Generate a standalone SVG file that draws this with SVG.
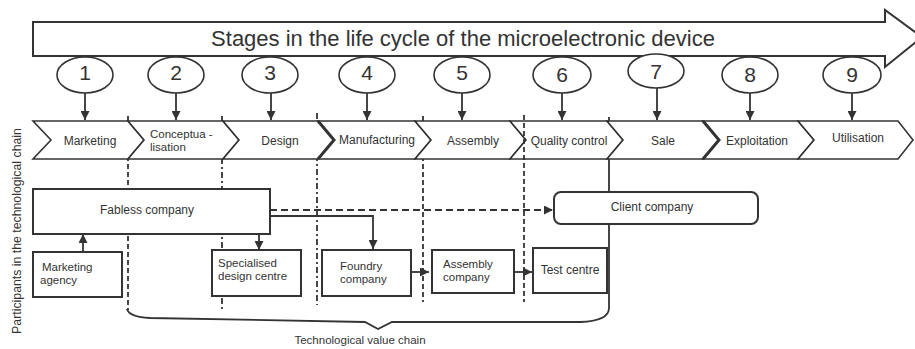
<svg xmlns="http://www.w3.org/2000/svg" width="915" height="349" viewBox="0 0 915 349">
<style>
text{font-family:"Liberation Sans",Arial,sans-serif;fill:#333}
.chev{fill:#fff;stroke:#333;stroke-width:1.6;stroke-linejoin:miter}
.box{fill:#fff;stroke:#333;stroke-width:2}
.ell{fill:#fff;stroke:#333;stroke-width:1.6}
.t12{font-size:12px}
.t11{font-size:11.5px}
.num{font-size:21px;text-anchor:middle}
.mid{text-anchor:middle}
.ln{fill:none;stroke:#333;stroke-width:1.8}
.dl{fill:none;stroke:#333;stroke-width:1.8}
</style>
<defs>
<marker id="ah" viewBox="0 0 10 10" refX="10" refY="5" markerWidth="9" markerHeight="9" markerUnits="userSpaceOnUse" orient="auto">
<path d="M0,0 L10,5 L0,10 z" fill="#333"/>
</marker>
</defs>
<rect width="915" height="349" fill="#fff"/>

<!-- stage separator lines (behind shapes) -->
<g id="separators">
<line class="dl" x1="128" y1="116" x2="128" y2="310" stroke-dasharray="5,3"/>
<line class="dl" x1="222" y1="116" x2="222" y2="312" stroke-dasharray="6,3,2,3"/>
<line class="dl" x1="317" y1="113" x2="317" y2="305" stroke-dasharray="6,3,2,3"/>
<line class="dl" x1="423" y1="116" x2="423" y2="302" stroke-dasharray="5,3"/>
<path class="ln" d="M609,117 L609,308 Q609,321 580,322 L392,322 L378,329 L365,322 L150,318 Q129,317 127,309"/>
</g>

<g id="lifecycle-arrow">
<polygon points="33,22 885,22 885,10 922,37 885,67 885,56 33,56" fill="#fff" stroke="#333" stroke-width="2"/>
<text x="463" y="46" class="mid" font-size="22">Stages in the life cycle of the microelectronic device</text>
</g>

<g id="stage-numbers">
<g id="n1"><ellipse class="ell" cx="85" cy="75" rx="28" ry="18"/><text class="num" x="85" y="80">1</text></g>
<g id="n2"><ellipse class="ell" cx="176" cy="75" rx="28" ry="18"/><text class="num" x="176" y="80">2</text></g>
<g id="n3"><ellipse class="ell" cx="270" cy="75" rx="28" ry="18"/><text class="num" x="270" y="80">3</text></g>
<g id="n4"><ellipse class="ell" cx="367" cy="75" rx="28" ry="18"/><text class="num" x="367" y="80">4</text></g>
<g id="n5"><ellipse class="ell" cx="462" cy="75" rx="28" ry="18"/><text class="num" x="462" y="80">5</text></g>
<g id="n6"><ellipse class="ell" cx="562" cy="75" rx="29" ry="18"/><text class="num" x="562" y="82">6</text></g>
<g id="n7"><ellipse class="ell" cx="656" cy="71" rx="28" ry="17"/><text class="num" x="656" y="79">7</text></g>
<g id="n8"><ellipse class="ell" cx="750" cy="75" rx="28" ry="18"/><text class="num" x="750" y="82">8</text></g>
<g id="n9"><ellipse class="ell" cx="852" cy="75" rx="29" ry="18"/><text class="num" x="852" y="82">9</text></g>
</g>

<g id="stages">
<g id="s1"><polygon class="chev" points="33,121 128,121 144,140 128,159 33,159 51,140"/><text class="t12 mid" x="90" y="145">Marketing</text></g>
<g id="s2"><polygon class="chev" points="128,121 223,121 239,140 223,159 128,159 144,140"/><text class="t11" x="150" y="138">Conceptua -</text><text class="t11" x="150" y="151">lisation</text></g>
<g id="s3"><polygon class="chev" points="223,121 318,121 334,140 318,159 223,159 239,140"/><text class="t12 mid" x="280" y="145">Design</text></g>
<g id="s4"><polygon class="chev" points="318,121 415,121 431,140 415,159 318,159 334,140"/><polyline points="318,121 334,140 318,159" fill="none" stroke="#333" stroke-width="3"/><text class="t12 mid" x="377" y="144">Manufacturing</text></g>
<g id="s5"><polygon class="chev" points="415,121 510,121 526,140 510,159 415,159 431,140"/><text class="t12 mid" x="473" y="145">Assembly</text></g>
<g id="s6"><polygon class="chev" points="510,121 607,121 623,140 607,159 510,159 526,140"/><text class="t12 mid" x="569" y="145">Quality control</text></g>
<g id="s7"><polygon class="chev" points="607,121 703,121 719,140 703,159 607,159 623,140"/><text class="t12 mid" x="663" y="145">Sale</text></g>
<g id="s8"><polygon class="chev" points="703,121 798,121 814,140 798,159 703,159 719,140"/><polyline points="703,121 719,140 703,159" fill="none" stroke="#333" stroke-width="3"/><text class="t12 mid" x="757" y="145">Exploitation</text></g>
<g id="s9"><polygon class="chev" points="798,121 898,121 913,140 898,159 798,159 814,140"/><text class="t12 mid" x="858" y="142">Utilisation</text></g>
</g>

<line class="dl" x1="524" y1="115" x2="524" y2="302" stroke-dasharray="5,3"/>

<g id="fabless"><rect class="box" x="33" y="189" width="237" height="45"/><text class="t12 mid" x="147" y="214">Fabless company</text></g>
<g id="marketing-agency"><rect class="box" x="33" y="252" width="89" height="45"/><text class="t11" x="42" y="271">Marketing</text><text class="t11" x="40" y="284">agency</text></g>
<g id="design-centre"><rect class="box" x="212" y="250" width="89" height="46"/><text class="t11" x="218" y="267">Specialised</text><text class="t11" x="218" y="280">design centre</text></g>
<g id="foundry"><rect class="box" x="322" y="250" width="89" height="46"/><text class="t11" x="340" y="270">Foundry</text><text class="t11" x="340" y="283">company</text></g>
<g id="assembly-company"><rect class="box" x="432" y="250" width="82" height="43"/><text class="t11" x="443" y="268">Assembly</text><text class="t11" x="443" y="281">company</text></g>
<g id="test-centre"><rect class="box" x="533" y="248" width="74" height="45"/><text class="t12 mid" x="570" y="274">Test centre</text></g>
<g id="client"><rect class="box" x="554" y="192" width="204" height="32" rx="7"/><text class="t12 mid" x="652" y="211">Client company</text></g>

<g id="connectors">
<line class="ln" x1="85" y1="93" x2="85" y2="120" marker-end="url(#ah)"/>
<line class="ln" x1="176" y1="93" x2="176" y2="120" marker-end="url(#ah)"/>
<line class="ln" x1="271" y1="93" x2="271" y2="120" marker-end="url(#ah)"/>
<line class="ln" x1="367" y1="93" x2="367" y2="120" marker-end="url(#ah)"/>
<line class="ln" x1="462" y1="93" x2="462" y2="120" marker-end="url(#ah)"/>
<line class="ln" x1="562" y1="93" x2="562" y2="120" marker-end="url(#ah)"/>
<line class="ln" x1="657" y1="88" x2="657" y2="120" marker-end="url(#ah)"/>
<line class="ln" x1="750" y1="93" x2="750" y2="120" marker-end="url(#ah)"/>
<line class="ln" x1="852" y1="93" x2="852" y2="120" marker-end="url(#ah)"/>
<line class="ln" x1="83" y1="252" x2="83" y2="234" marker-end="url(#ah)"/>
<line class="ln" x1="259" y1="234" x2="259" y2="250" marker-end="url(#ah)"/>
<polyline class="ln" points="270,216 373,216 373,249" marker-end="url(#ah)"/>
<line class="ln" x1="270" y1="210" x2="553" y2="210" stroke-dasharray="7,4" marker-end="url(#ah)"/>
<line class="ln" x1="411" y1="272" x2="429" y2="272" marker-end="url(#ah)"/>
<line class="ln" x1="514" y1="272" x2="532" y2="272" marker-end="url(#ah)"/>
</g>

<text x="360" y="344" class="mid" font-size="11.5">Technological value chain</text>
<text transform="translate(21,231) rotate(-90)" class="mid" font-size="12.3">Participants in the technological chain</text>
</svg>
